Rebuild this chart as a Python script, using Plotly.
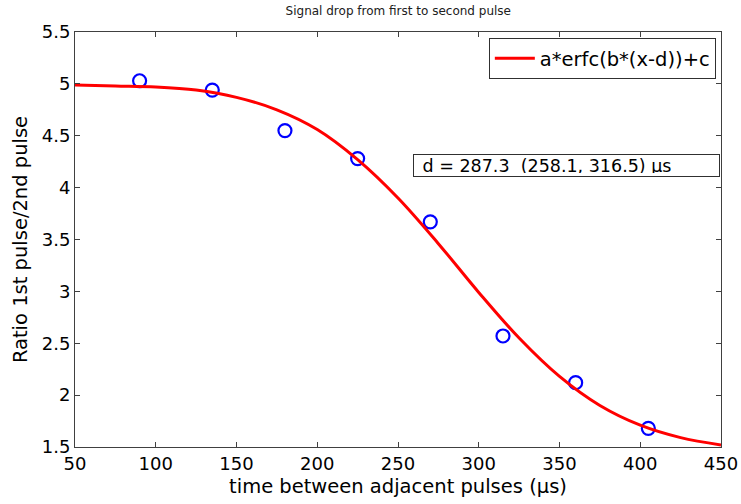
import plotly.graph_objects as go

# measured data points
pulse_gap = [90, 135, 180, 225, 270, 315, 360, 405]
ratio = [5.03, 4.94, 4.55, 4.28, 3.67, 2.57, 2.12, 1.68]

# fitted curve
fit_x = [50, 75, 100, 125, 150, 175, 200, 225, 250, 275, 300, 325, 350, 375, 400, 425, 450]
fit_y = [4.99, 4.98, 4.97, 4.94, 4.87, 4.75, 4.56, 4.27, 3.90, 3.46, 2.99, 2.55, 2.18, 1.90, 1.71, 1.59, 1.52]

x_ticks = [50, 100, 150, 200, 250, 300, 350, 400, 450]
x_tick_text = ["50", "100", "150", "200", "250", "300", "350", "400", "450"]
y_ticks = [1.5, 2, 2.5, 3, 3.5, 4, 4.5, 5, 5.5]
y_tick_text = ["1.5", "2", "2.5", "3", "3.5", "4", "4.5", "5", "5.5"]

FONT = "DejaVu Sans, Liberation Sans, Arial, sans-serif"
AXC = "#404040"

fig = go.Figure()
fig.add_trace(go.Scatter(
    x=pulse_gap, y=ratio, mode="markers", showlegend=False,
    marker=dict(symbol="circle-open", size=13, color="#0000ff",
                line=dict(width=2.2, color="#0000ff")),
))
fig.add_trace(go.Scatter(
    x=fit_x, y=fit_y, mode="lines", name="a*erfc(b*(x-d))+c",
    line=dict(color="#ff0000", width=3, shape="spline", smoothing=1.0),
))

axis_common = dict(
    showgrid=False, zeroline=False, showline=True, linecolor=AXC, linewidth=1,
    mirror="ticks", ticks="inside", ticklen=5, tickcolor=AXC, tickwidth=1,
    tickfont=dict(family=FONT, size=18, color="#000000"), automargin=False,
)

fig.update_layout(
    width=741, height=504,
    paper_bgcolor="white", plot_bgcolor="white",
    margin=dict(l=75, r=20, t=32, b=57),
    font=dict(family=FONT, color="#000000"),
    title=dict(text="Signal drop from first to second pulse", x=0.5375, xanchor="center",
               y=0.986, yanchor="top", font=dict(family=FONT, size=12, color="#202020")),
    xaxis=dict(range=[50, 450], tickmode="array", tickvals=x_ticks, ticktext=x_tick_text,
               title=dict(text="time between adjacent pulses (μs)", standoff=6,
                          font=dict(family=FONT, size=19.5)),
               **axis_common),
    yaxis=dict(range=[1.5, 5.5], tickmode="array", tickvals=y_ticks, ticktext=y_tick_text,
               title=dict(text="Ratio 1st pulse/2nd pulse", standoff=8,
                          font=dict(family=FONT, size=19.5)),
               **axis_common),
    legend=dict(x=0.992, y=0.9855, xanchor="right", yanchor="top",
                bgcolor="white", bordercolor="#303030", borderwidth=1,
                font=dict(family=FONT, size=19.5), itemwidth=40,
                tracegroupgap=0),
)

fig.add_annotation(
    xref="paper", yref="paper", x=(413 - 75) / 646, y=(447 - 165) / 415,
    xanchor="left", yanchor="middle", align="left",
    text="\u00a0d = 287.3\u00a0\u00a0(258.1, 316.5) μs", showarrow=False,
    font=dict(family=FONT, size=17.5, color="#000000"),
    bgcolor="white", bordercolor="#303030", borderwidth=1, borderpad=3,
    width=299, height=15,
)

fig.write_html("out.html")
